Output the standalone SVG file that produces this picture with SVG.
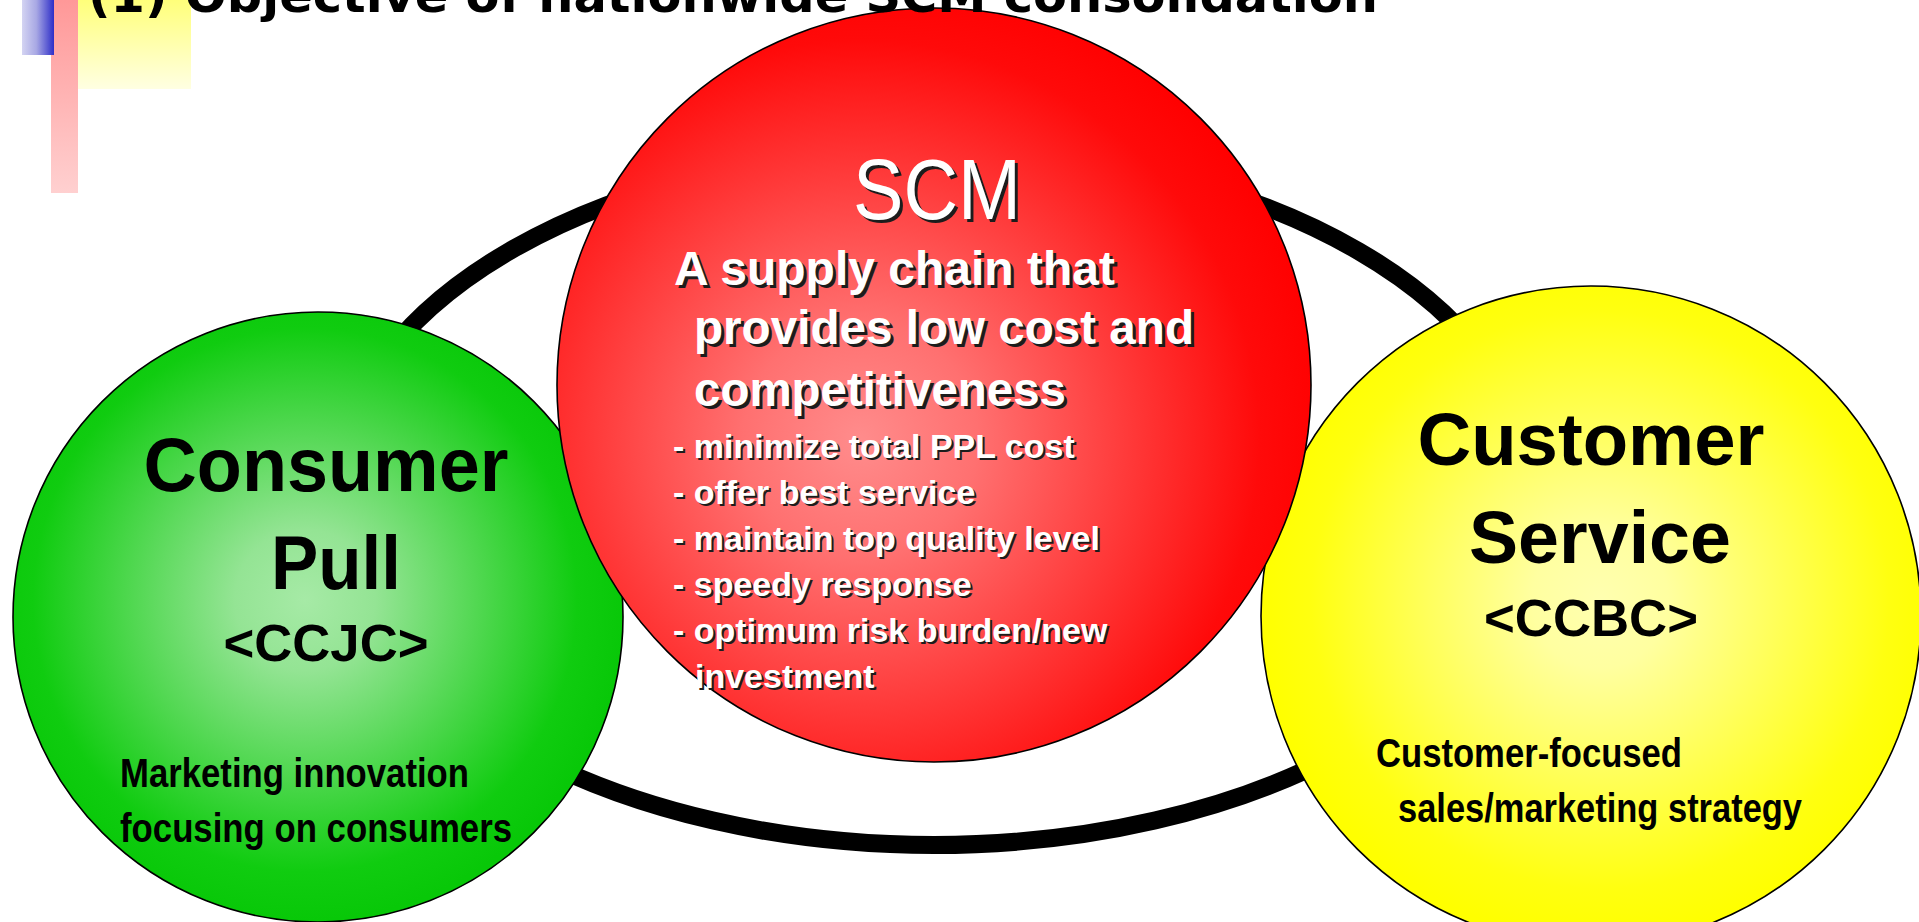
<svg xmlns="http://www.w3.org/2000/svg" xmlns:xlink="http://www.w3.org/1999/xlink" width="1919" height="922" viewBox="0 0 1919 922">
  <style>
    .ring { fill: none; stroke: #000; stroke-width: 18; }
    .node { stroke: #000; stroke-width: 1.6; }
    .bold { font-family: "Liberation Sans", Arial, sans-serif; font-weight: bold; fill: #000; }
    .narrow { font-family: "Liberation Sans Narrow", "Liberation Sans", Arial, sans-serif; font-weight: bold; fill: #000; }
    .light { font-family: "Liberation Sans Narrow", "Liberation Sans", Arial, sans-serif; font-weight: normal; }
    .title { font-family: "DejaVu Sans", Verdana, sans-serif; font-weight: bold; font-size: 48px; fill: #000; }
    .mid { text-anchor: middle; }
    .shadow { fill: #1c1c1c; }
    .face { fill: #ffffff; }
  </style>

  <defs>
    <!-- corner accent fills -->
    <linearGradient id="gBlueBar" x1="0" y1="0" x2="1" y2="0">
      <stop offset="0" stop-color="#d4d4f2"/>
      <stop offset="0.45" stop-color="#a8a8e4"/>
      <stop offset="1" stop-color="#2e2ec8"/>
    </linearGradient>
    <linearGradient id="gPinkBar" x1="0" y1="0" x2="0" y2="1">
      <stop offset="0" stop-color="#ff9898"/>
      <stop offset="1" stop-color="#ffd0d0"/>
    </linearGradient>
    <linearGradient id="gYellowSq" x1="0" y1="0" x2="0" y2="1">
      <stop offset="0" stop-color="#ffff7a"/>
      <stop offset="1" stop-color="#ffffe2"/>
    </linearGradient>

    <!-- circle fills: light centre fading to saturated rim -->
    <radialGradient id="gRed" gradientUnits="userSpaceOnUse" cx="860" cy="440" r="470">
      <stop offset="0" stop-color="#ff8c8c"/>
      <stop offset="0.25" stop-color="#ff7070"/>
      <stop offset="0.85" stop-color="#ff0a0a"/>
      <stop offset="1" stop-color="#ff0000"/>
    </radialGradient>
    <radialGradient id="gGreen" gradientUnits="userSpaceOnUse" cx="305" cy="600" r="320">
      <stop offset="0" stop-color="#a6eaa6"/>
      <stop offset="0.22" stop-color="#94e494"/>
      <stop offset="0.85" stop-color="#10cc10"/>
      <stop offset="1" stop-color="#08c808"/>
    </radialGradient>
    <radialGradient id="gYellow" gradientUnits="userSpaceOnUse" cx="1600" cy="600" r="340">
      <stop offset="0" stop-color="#ffffb0"/>
      <stop offset="0.2" stop-color="#ffffa0"/>
      <stop offset="0.85" stop-color="#ffff10"/>
      <stop offset="1" stop-color="#ffff00"/>
    </radialGradient>

    <!-- SCM body text, drawn twice: dark offset copy, then white -->
    <g id="scmHead" class="light">
      <text x="937" y="219" font-size="86" text-anchor="middle" textLength="168" lengthAdjust="spacingAndGlyphs">SCM</text>
    </g>
    <g id="scmLead" class="bold" style="fill:inherit" font-size="48">
      <text x="674" y="285" textLength="441" lengthAdjust="spacingAndGlyphs">A supply chain that</text>
      <text x="694" y="344" textLength="500" lengthAdjust="spacingAndGlyphs">provides low cost and</text>
      <text x="694" y="406" textLength="372" lengthAdjust="spacingAndGlyphs">competitiveness</text>
    </g>
    <g id="scmList" class="bold" style="fill:inherit" font-size="34">
      <text x="673" y="458">- minimize total PPL cost</text>
      <text x="673" y="504">- offer best service</text>
      <text x="673" y="550">- maintain top quality level</text>
      <text x="673" y="596">- speedy response</text>
      <text x="673" y="642">- optimum risk burden/new</text>
      <text x="695" y="688">investment</text>
    </g>
  </defs>

  <!-- corner accent blocks -->
  <g id="accent">
    <rect x="78" y="0" width="113" height="89" fill="url(#gYellowSq)"/>
    <rect x="51" y="0" width="27" height="193" fill="url(#gPinkBar)"/>
    <rect x="22" y="0" width="32" height="55" fill="url(#gBlueBar)"/>
  </g>

  <!-- ring linking the three circles -->
  <g id="connectors">
    <ellipse class="ring" cx="934" cy="497" rx="600" ry="348"/>
  </g>

  <g id="consumer-pull">
    <circle class="node" cx="318" cy="617" r="305" fill="url(#gGreen)"/>
    <text class="bold mid" x="326" y="491" font-size="76" textLength="365" lengthAdjust="spacingAndGlyphs">Consumer</text>
    <text class="bold mid" x="336" y="589" font-size="76" textLength="130" lengthAdjust="spacingAndGlyphs">Pull</text>
    <text class="bold mid" x="326" y="661" font-size="52" textLength="205" lengthAdjust="spacingAndGlyphs">&lt;CCJC&gt;</text>
    <text class="narrow" x="120" y="787" font-size="40" textLength="349" lengthAdjust="spacingAndGlyphs">Marketing innovation</text>
    <text class="narrow" x="120" y="842" font-size="40" textLength="392" lengthAdjust="spacingAndGlyphs">focusing on consumers</text>
  </g>

  <g id="customer-service">
    <circle class="node" cx="1591" cy="616" r="330" fill="url(#gYellow)"/>
    <text class="bold mid" x="1591" y="465" font-size="75" textLength="347" lengthAdjust="spacingAndGlyphs">Customer</text>
    <text class="bold mid" x="1600" y="563" font-size="75" textLength="262" lengthAdjust="spacingAndGlyphs">Service</text>
    <text class="bold mid" x="1591" y="636" font-size="52" textLength="214" lengthAdjust="spacingAndGlyphs">&lt;CCBC&gt;</text>
    <text class="narrow" x="1376" y="767" font-size="40" textLength="306" lengthAdjust="spacingAndGlyphs">Customer-focused</text>
    <text class="narrow" x="1398" y="822" font-size="40" textLength="404" lengthAdjust="spacingAndGlyphs">sales/marketing strategy</text>
  </g>

  <g id="scm">
    <circle class="node" cx="934" cy="385" r="377" fill="url(#gRed)"/>
    <use xlink:href="#scmHead" class="shadow" x="3" y="3"/>
    <use xlink:href="#scmHead" class="face"/>
    <use xlink:href="#scmLead" class="shadow" x="3" y="3"/>
    <use xlink:href="#scmLead" class="face"/>
    <use xlink:href="#scmList" class="shadow" x="2" y="2"/>
    <use xlink:href="#scmList" class="face"/>
  </g>

  <!-- slide heading, partly above the top edge -->
  <text id="title" class="title" x="88" y="12" textLength="1290" lengthAdjust="spacingAndGlyphs">(1) Objective of nationwide SCM consolidation</text>
</svg>
